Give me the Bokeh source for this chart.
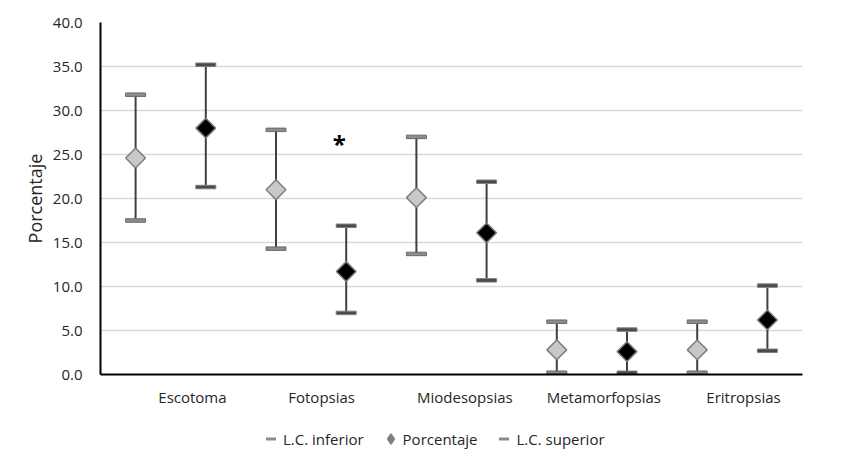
import math
from bokeh.plotting import figure
from bokeh.layouts import column
from bokeh.models import (ColumnDataSource, FixedTicker, Legend, LegendItem,
                          NumeralTickFormatter, Range1d)
from bokeh.core.properties import value
from bokeh.embed import file_html
from bokeh.resources import INLINE

# ---------------- data ----------------
categories = ["Escotoma", "Fotopsias", "Miodesopsias", "Metamorfopsias", "Eritropsias"]
# first (light grey) series of each pair
g1_lower = [17.5, 14.3, 13.7, 0.2, 0.2]
g1_pct = [24.6, 21.0, 20.1, 2.8, 2.8]
g1_upper = [31.8, 27.8, 27.0, 6.0, 6.0]
# second (black) series of each pair
g2_lower = [21.3, 7.0, 10.7, 0.2, 2.7]
g2_pct = [28.0, 11.7, 16.1, 2.6, 6.2]
g2_upper = [35.2, 16.9, 21.9, 5.1, 10.1]
y_ticks = [0, 5, 10, 15, 20, 25, 30, 35, 40]
legend_labels = ["L.C. inferior", "Porcentaje", "L.C. superior"]
annotation_text = "*"
annotation_category = "Fotopsias"
annotation_value = 26.3

# ---------------- layout helpers ----------------
n = len(categories)
x1 = [2 * i + 0.5 for i in range(n)]
x2 = [2 * i + 1.5 for i in range(n)]
label_offsets = [0.31, 0.15, 0.19, 0.17, 0.16]
label_x = [2 * i + 1 + label_offsets[i] for i in range(n)]

FONT = "Open Sans"
TEXT = "#262626"

p = figure(width=857, height=420, x_range=Range1d(0, 2 * n), y_range=Range1d(0, 40),
           output_backend="svg", toolbar_location=None,
           min_border_left=100, min_border_right=55, min_border_top=22, min_border_bottom=46)
p.outline_line_color = None
p.background_fill_color = "white"
p.border_fill_color = "white"

# axes
p.xaxis.ticker = FixedTicker(ticks=label_x)
p.xaxis.major_label_overrides = {x: c for x, c in zip(label_x, categories)}
p.xaxis.major_tick_line_color = None
p.xaxis.minor_tick_line_color = None
p.xaxis.axis_line_color = "black"
p.xaxis.axis_line_width = 2
p.xaxis.major_label_standoff = 6
p.xaxis.major_label_text_font = FONT
p.xaxis.major_label_text_font_size = "15px"
p.xaxis.major_label_text_color = TEXT

p.yaxis.ticker = FixedTicker(ticks=y_ticks)
p.yaxis.formatter = NumeralTickFormatter(format="0.0")
p.yaxis.major_tick_line_color = None
p.yaxis.minor_tick_line_color = None
p.yaxis.axis_line_color = "black"
p.yaxis.axis_line_width = 2
p.yaxis.major_label_standoff = 12
p.yaxis.major_label_text_font = FONT
p.yaxis.major_label_text_font_size = "15px"
p.yaxis.major_label_text_color = TEXT
p.yaxis.axis_label = "Porcentaje"
p.yaxis.axis_label_text_font = FONT
p.yaxis.axis_label_text_font_size = "18px"
p.yaxis.axis_label_text_font_style = "normal"
p.yaxis.axis_label_text_color = TEXT
p.yaxis.axis_label_standoff = 3

p.xgrid.grid_line_color = None
p.ygrid.grid_line_color = "#d9d9d9"
p.ygrid.grid_line_width = 1.5

# error bars, caps and points
series = [
    (x1, g1_lower, g1_pct, g1_upper, "#c8c8c8", "#8c8c8c", "#6a6a6a"),
    (x2, g2_lower, g2_pct, g2_upper, "#000000", "#4a4a4a", "#808080"),
]
for xs, lo, pc, up, fill, cap_fill, cap_line in series:
    src = ColumnDataSource(dict(x=xs, lo=lo, pc=pc, up=up))
    p.segment(x0="x", y0="lo", x1="x", y1="up", source=src,
              line_color="#404040", line_width=2)
    for col in ("lo", "up"):
        p.rect(x="x", y=col, width=20, height=3.5, width_units="screen",
               height_units="screen", source=src, fill_color=cap_fill,
               line_color=cap_line, line_width=1)
    p.scatter(x="x", y="pc", source=src, marker="square", size=14, angle=math.pi / 4,
              fill_color=fill, line_color="#7f7f7f", line_width=1.5)

# annotation
ai = categories.index(annotation_category)
p.text(x=[x2[ai] - 0.1], y=[annotation_value], text=[annotation_text],
       text_font=value(FONT), text_font_size="24px", text_font_style="bold",
       text_color="black", text_align="center", text_baseline="middle")

# ---------------- legend strip ----------------
lg = figure(width=857, height=41, x_range=Range1d(0, 1), y_range=Range1d(0, 1),
            output_backend="svg", toolbar_location=None, x_axis_type=None, y_axis_type=None,
            min_border_left=0, min_border_right=0, min_border_top=0, min_border_bottom=0)
lg.outline_line_color = None
lg.grid.visible = False
lg.background_fill_color = "white"
lg.border_fill_color = "white"

nan = [float("nan")]
r_lo = lg.scatter(x=nan, y=nan, marker="dash", size=10, line_color="#8c8c8c", line_width=3)
r_pc = lg.scatter(x=nan, y=nan, marker="diamond", size=10,
                  fill_color="#7f7f7f", line_color="#7f7f7f", line_width=1.5)
r_up = lg.scatter(x=nan, y=nan, marker="dash", size=10, line_color="#8c8c8c", line_width=3)
legend = Legend(items=[LegendItem(label=legend_labels[0], renderers=[r_lo]),
                       LegendItem(label=legend_labels[1], renderers=[r_pc]),
                       LegendItem(label=legend_labels[2], renderers=[r_up])],
                location=(158, 10), orientation="horizontal",
                border_line_color=None, background_fill_alpha=0, padding=0, margin=0,
                spacing=14, label_standoff=0, glyph_width=25, glyph_height=25,
                label_text_font=FONT, label_text_font_size="15px",
                label_text_color=TEXT)
lg.add_layout(legend)

layout = column(p, lg, spacing=0)
open("out.html", "w").write(file_html(layout, INLINE))
